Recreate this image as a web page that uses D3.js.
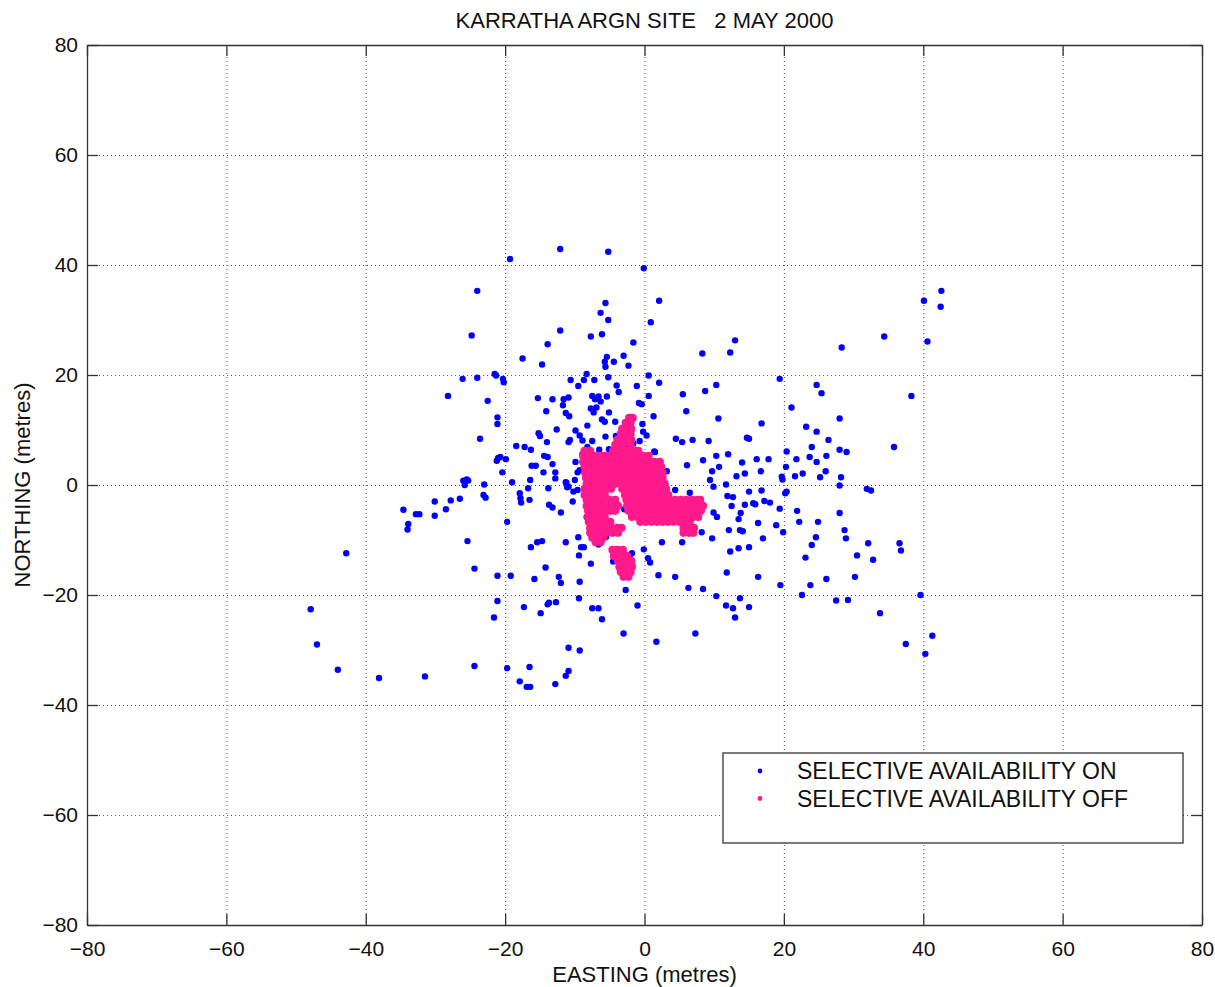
<!DOCTYPE html>
<html>
<head>
<meta charset="utf-8">
<script src="https://cdn.jsdelivr.net/npm/d3@7"></script>
<style>
  html, body { margin: 0; padding: 0; background: #fff; }
  svg { display: block; font-family: "Liberation Sans", Arial, Helvetica, sans-serif; }
</style>
</head>
<body>
<svg id="chart" width="1215" height="987"></svg>
<script>
// ---------------- DATA ----------------
const title = "KARRATHA ARGN SITE   2 MAY 2000";
const xLabel = "EASTING (metres)";
const yLabel = "NORTHING (metres)";
const seriesNames = ["SELECTIVE AVAILABILITY ON", "SELECTIVE AVAILABILITY OFF"];
const xTicks = [-80, -60, -40, -20, 0, 20, 40, 60, 80];
const yTicks = [-80, -60, -40, -20, 0, 20, 40, 60, 80];

// SA ON (blue) : [easting, northing]
const saOn = [
[-12.1,42.9],[-5.2,42.4],[-19.3,41.1],[-0.1,39.4],[2.1,33.5],[-24.0,35.3],[-5.6,33.1],[-6.3,31.3],[-5.2,30.0],[0.9,29.6],
[-24.8,27.2],[-12.1,28.1],[-7.7,27.0],[-6.1,27.4],[-1.6,25.9],[-13.9,25.6],[-17.5,23.0],[-14.7,21.9],[-5.4,23.3],[-5.7,22.4],
[-5.6,21.5],[-4.4,22.4],[-3.0,23.5],[-2.3,21.7],[-21.5,20.2],[-21.3,19.9],[-26.1,19.3],[-24.0,19.5],[-20.3,19.3],[-20.2,18.7],
[-8.3,20.2],[-5.2,19.6],[0.6,19.9],[2.1,18.6],[-10.6,19.1],[-8.7,19.1],[-7.2,19.1],[-9.5,18.0],[-4.0,18.1],[-3.7,16.9],
[-1.1,18.0],[-28.2,16.2],[-22.5,15.3],[-15.3,15.8],[-13.2,15.6],[-11.6,15.6],[-10.9,15.9],[-11.7,14.5],[-7.5,16.2],[-7.1,15.6],
[-6.6,16.1],[-6.3,15.2],[-5.4,16.1],[-7.7,13.9],[-6.9,14.1],[-7.3,13.2],[-5.1,13.2],[0.6,16.2],[-0.8,14.9],[-0.4,14.7],
[1.3,12.5],[-14.1,13.4],[-11.3,13.1],[-10.8,12.5],[-21.1,12.3],[-21.1,11.1],[-6.1,11.9],[-5.7,11.5],[-4.2,11.5],[-8.2,10.8],
[-0.3,11.1],[-0.2,9.7],[0.3,9.0],[-23.6,8.4],[-12.6,10.1],[-9.9,9.9],[-15.2,9.4],[-15.0,8.9],[-9.3,9.0],[-8.9,8.1],
[-10.7,8.2],[-10.9,7.8],[-7.5,8.0],[-5.6,8.8],[-14.0,7.8],[-4.1,8.9],[-0.7,8.0],[-1.6,7.6],[1.4,6.1],[-18.4,7.1],
[-17.2,6.9],[-16.3,6.4],[-8.2,6.9],[-6.5,6.4],[-5.1,6.5],[-1.3,6.4],[-21.0,4.9],[-20.7,5.1],[-21.2,4.4],[-19.9,4.7],
[-14.4,5.3],[-13.9,5.1],[-8.9,5.6],[-7.3,4.9],[-16.2,3.5],[-15.6,3.5],[-13.2,3.8],[-9.9,4.2],[-20.4,2.3],[-14.5,2.3],
[-12.8,2.3],[-12.8,1.2],[-9.6,2.3],[-9.3,2.7],[-10.0,0.9],[-11.2,0.4],[-26.0,0.8],[-25.5,1.0],[-25.3,0.8],[-25.8,0.0],
[-23.0,0.1],[-19.0,0.5],[-16.4,0.9],[-16.7,-0.6],[-13.8,-0.6],[-10.9,-0.3],
[-11.3,0.5],[-11.1,-0.4],[-10.2,-1.2],[-9.6,-0.9],[-17.9,-1.5],[-17.8,-2.4],[-17.7,-3.2],[-16.5,-2.7],[-13.7,-3.6],[-13.2,-4.1],
[-12.0,-5.0],[-10.3,-3.0],[-23.1,-1.8],[-22.8,-2.3],[-26.5,-2.5],[-27.8,-2.8],[-28.5,-4.4],[-30.1,-3.0],[-30.1,-5.6],[-34.6,-4.5],
[-32.8,-5.3],[-32.3,-5.3],[-33.9,-7.1],[-34.0,-8.1],[-42.8,-12.4],[-25.4,-10.2],[-24.4,-15.2],[-21.1,-16.5],[-19.2,-16.5],[-19.7,-6.7],
[-16.3,-11.3],[-15.4,-10.4],[-14.7,-10.2],[-14.2,-15.0],[-15.8,-17.1],[-12.3,-16.7],[-12.0,-17.8],[-11.3,-10.4],[-9.5,-9.5],[-9.1,-11.3],
[-8.7,-11.3],[-9.4,-12.8],[-7.7,-14.3],[-6.6,-10.8],[-9.3,-17.6],[-2.7,-19.1],[-0.1,-11.7],[0.5,-13.3],[0.8,-14.1],[2.0,-16.4],
[-2.1,-12.7],[-1.8,-12.4],[-4.5,-13.9],[-5.7,-5.5],[-5.3,-6.9],[-5.2,-7.7],[-5.5,-9.4],[-2.9,-4.4],[-8.3,-5.8],[-21.1,-21.1],
[-21.6,-24.1],[-17.3,-22.2],[-14.9,-23.3],[-13.9,-21.7],[-13.7,-21.4],[-12.7,-21.3],[-9.4,-20.6],[-7.5,-22.4],[-6.6,-22.4],[-6.1,-24.4],
[-3.0,-27.0],[-1.0,-21.9],[1.7,-28.5],[-47.9,-22.6],[-47.0,-29.0],[-44.0,-33.6],[-38.1,-35.1],[-31.5,-34.8],[-24.4,-32.9],[-19.7,-33.3],
[-16.5,-33.1],[-17.9,-35.7],[-16.9,-36.7],[-16.4,-36.7],[-12.8,-36.2],[-11.3,-34.7],[-10.9,-33.8],[-10.9,-29.6],[-9.3,-30.1],
[8.3,23.9],[12.3,24.1],[13.0,26.3],[28.3,25.0],[34.4,27.0],[40.1,33.5],[42.6,35.3],[42.5,32.4],[40.6,26.1],[19.4,19.3],
[24.7,18.2],[25.4,16.7],[38.3,16.2],[5.5,16.5],[8.7,17.1],[10.3,18.2],[6.0,13.4],[10.6,12.1],[16.8,11.2],[21.1,14.1],
[28.0,12.1],[23.2,10.6],[24.7,9.7],[26.4,8.2],[24.0,6.9],[23.7,5.1],[24.7,4.2],[26.1,5.3],[28.0,6.4],[29.0,6.0],
[35.8,6.9],[4.5,8.4],[5.4,7.8],[6.9,8.2],[9.2,8.0],[14.7,8.6],[15.0,8.4],[8.4,4.5],[10.3,5.3],[12.0,5.6],
[6.1,3.6],[10.7,3.3],[9.7,2.5],[14.0,4.1],[16.1,4.7],[17.8,4.7],[14.4,2.1],[13.2,1.6],[16.7,2.5],[11.7,0.1],
[9.9,-0.3],[9.4,0.9],[3.2,2.5],[1.5,6.0],[1.5,4.0],[20.4,6.1],[20.3,3.3],[19.7,1.5],[19.8,1.0],[21.8,4.7],
[21.6,1.6],[22.7,2.1],[25.2,1.4],[26.0,2.5],[28.2,1.4],[28.0,-0.1],
[31.9,-0.7],[32.5,-1.0],[4.4,-0.9],[2.7,-0.9],[6.5,-1.4],[15.0,-1.2],[16.8,-1.0],[20.4,-1.2],[20.2,-1.5],[11.9,-2.0],
[12.7,-2.2],[12.5,-3.8],[14.4,-3.6],[15.9,-3.5],[15.6,-3.3],[17.2,-2.9],[18.0,-3.2],[19.4,-4.3],[21.9,-4.7],[22.2,-6.7],
[24.9,-6.7],[28.0,-5.1],[28.7,-8.2],[28.9,-9.7],[32.1,-10.6],[36.6,-10.6],[36.8,-11.9],[32.8,-13.6],[30.5,-12.8],[30.2,-16.7],
[26.1,-17.1],[24.6,-9.5],[24.0,-10.9],[23.1,-13.2],[23.8,-18.2],[22.6,-20.0],[27.5,-21.0],[29.2,-20.9],[33.8,-23.3],[39.6,-20.0],
[41.3,-27.4],[37.5,-28.9],[40.3,-30.7],[9.9,-5.0],[10.4,-5.8],[13.5,-6.2],[13.8,-5.1],[16.3,-6.9],[18.9,-7.3],[19.9,-8.6],
[12.1,-8.2],[13.7,-8.2],[14.1,-8.4],[8.2,-8.6],[9.7,-9.7],[5.4,-10.4],[2.5,-10.4],[6.1,-6.9],[17.0,-9.7],[12.3,-12.1],
[13.5,-11.5],[15.0,-11.3],[4.4,-16.7],[6.3,-18.7],[8.4,-18.9],[11.8,-15.9],[16.3,-16.7],[19.5,-18.2],[10.3,-20.2],[13.7,-20.6],
[11.7,-21.9],[12.7,-22.4],[15.0,-22.2],[13.0,-24.1],[7.3,-27.0]
];

// SA OFF (pink): each row holds a northing and the eastings read along it
const saOffRows = [
{n: 12.2, e: [-2.2,-1.7]},
{n: 11.3, e: [-2.7,-2.0]},
{n: 10.2, e: [-3.2,-2.6,-1.9]},
{n: 9.3,  e: [-3.4,-2.7,-2.0]},
{n: 8.2,  e: [-3.9,-3.2,-2.5,-1.9]},
{n: 7.3,  e: [-4.2,-3.5,-2.8,-2.0]},
{n: 6.2,  e: [-8.6,-7.8,-4.5,-3.8,-3.0,-2.3,-1.5,-0.9]},
{n: 5.3,  e: [-8.8,-8.0,-7.2,-6.4,-5.7,-5.0,-4.2,-3.4,-2.6,-1.8,-1.0,-0.2,0.6]},
{n: 4.2,  e: [-8.8,-8.0,-7.2,-6.4,-5.7,-5.0,-4.2,-3.4,-2.6,-1.8,-1.0,-0.2,0.6,1.4,2.2]},
{n: 3.3,  e: [-8.6,-7.8,-7.0,-6.2,-5.4,-4.6,-3.8,-3.0,-2.2,-1.4,-0.6,0.2,1.0,1.8,2.4]},
{n: 2.2,  e: [-8.5,-7.7,-6.9,-6.1,-5.3,-4.5,-3.7,-2.9,-2.1,-1.3,-0.5,0.3,1.1,1.9,2.6]},
{n: 1.3,  e: [-8.4,-7.6,-6.8,-6.0,-5.2,-4.4,-3.6,-2.8,-2.0,-1.2,-0.4,0.4,1.2,2.0,2.6]},
{n: 0.2,  e: [-8.3,-7.5,-6.7,-5.9,-5.1,-4.3,-3.5,-2.7,-1.9,-1.1,-0.3,0.5,1.3,2.1,2.9]},
{n: -0.7, e: [-8.6,-7.8,-7.0,-6.2,-5.4,-4.8,-3.2,-2.4,-1.6,-0.8,0.0,0.8,1.6,2.4,3.1]},
{n: -1.8, e: [-8.6,-7.8,-7.0,-6.2,-5.7,-2.8,-2.0,-1.2,-0.4,0.4,1.2,2.0,2.8,3.4]},
{n: -2.7, e: [-8.3,-7.5,-6.7,-6.0,-5.0,-4.2,-2.6,-1.9,-1.2,-0.4,0.4,1.2,2.0,2.8,3.6,4.4,5.2,6.0,6.8,7.6,8.0]},
{n: -3.8, e: [-8.3,-7.5,-6.7,-5.9,-5.1,-4.3,-3.8,-2.5,-1.7,-0.9,-0.1,0.7,1.5,2.3,3.1,3.9,4.7,5.5,6.3,7.1,7.9,8.4]},
{n: -4.7, e: [-8.1,-7.3,-6.5,-5.7,-4.9,-4.2,-2.3,-1.5,-0.7,0.1,0.9,1.7,2.5,3.3,4.1,4.9,5.7,6.5,7.3,8.1]},
{n: -5.8, e: [-8.1,-7.3,-6.5,-5.7,-1.8,-1.0,-0.2,0.6,1.4,2.2,3.0,3.8,4.6,5.4,6.2,7.0,7.7]},
{n: -6.7, e: [-8.0,-7.2,-6.4,-5.7,-4.9,-0.6,0.2,1.0,1.8,2.6,3.4,4.2,5.0,5.8,6.5]},
{n: -7.8, e: [-7.8,-7.0,-6.2,-5.5,-4.7,-3.9,-3.3,5.6,6.4,7.1]},
{n: -8.7, e: [-7.8,-7.0,-6.2,-5.5,-4.6,-3.8,5.6,6.4,7.0]},
{n: -9.6, e: [-7.5,-6.7,-5.9]},
{n: -10.4,e: [-7.0,-6.3]},
{n: -11.8,e: [-4.6,-3.9,-3.1]},
{n: -12.9,e: [-4.4,-3.7,-3.0,-2.5]},
{n: -13.8,e: [-3.8,-3.1,-2.4,-1.9]},
{n: -14.9,e: [-3.6,-2.9,-2.2,-1.8]},
{n: -15.8,e: [-3.4,-2.7,-2.0]},
{n: -16.7,e: [-3.0,-2.3]}
];

// ---------------- CHART ----------------
const W = 1215, H = 987;
const m = {left: 87, top: 45, right: 13, bottom: 62};
const pw = W - m.left - m.right, ph = H - m.top - m.bottom;
const blue = "#0000ff", pink = "#ff1a8c", axisColor = "#333", gridColor = "#555";

const svg = d3.select("#chart");
const x = d3.scaleLinear().domain([-80, 80]).range([0, pw]);
const y = d3.scaleLinear().domain([-80, 80]).range([ph, 0]);

const g = svg.append("g").attr("transform", `translate(${m.left},${m.top})`);

// grid
const grid = g.append("g").attr("class", "grid");
grid.selectAll("line.vx").data(xTicks.slice(1, -1)).join("line")
  .attr("x1", d => x(d) + 0.5).attr("x2", d => x(d) + 0.5)
  .attr("y1", 0).attr("y2", ph)
  .attr("stroke", gridColor).attr("stroke-width", 1).attr("stroke-dasharray", "1,3");
grid.selectAll("line.hy").data(yTicks.slice(1, -1)).join("line")
  .attr("y1", d => y(d) + 0.5).attr("y2", d => y(d) + 0.5)
  .attr("x1", 0).attr("x2", pw)
  .attr("stroke", gridColor).attr("stroke-width", 1).attr("stroke-dasharray", "1,3");

// points: SA ON plotted first, SA OFF on top
g.append("g").selectAll("circle").data(saOn).join("circle")
  .attr("cx", d => x(d[0])).attr("cy", d => y(d[1])).attr("r", 3.2)
  .attr("fill", blue);
const saOff = saOffRows.flatMap(r => r.e.map(e => [e, r.n]));
g.append("g").selectAll("circle").data(saOff).join("circle")
  .attr("cx", d => x(d[0])).attr("cy", d => y(d[1])).attr("r", 4.1)
  .attr("fill", pink);

// axes
const tickLen = 11;
const fmt = d3.format("d");
const axB = g.append("g").attr("transform", `translate(0,${ph})`)
  .call(d3.axisBottom(x).tickValues(xTicks).tickFormat(fmt).tickSizeInner(-tickLen).tickSizeOuter(0).tickPadding(16));
const axT = g.append("g")
  .call(d3.axisTop(x).tickValues(xTicks).tickFormat("").tickSizeInner(-tickLen).tickSizeOuter(0));
const axL = g.append("g")
  .call(d3.axisLeft(y).tickValues(yTicks).tickFormat(fmt).tickSizeInner(-tickLen).tickSizeOuter(0).tickPadding(9));
const axR = g.append("g").attr("transform", `translate(${pw},0)`)
  .call(d3.axisRight(y).tickValues(yTicks).tickFormat("").tickSizeInner(-tickLen).tickSizeOuter(0));
[axB, axT, axL, axR].forEach(a => {
  a.select(".domain").attr("stroke", axisColor).attr("stroke-width", 1.3);
  a.selectAll(".tick line").attr("stroke", axisColor).attr("stroke-width", 1.3);
  a.selectAll(".tick text").attr("fill", "#111").style("font-size", "21px")
    .style("font-family", "'Liberation Sans', Arial, sans-serif");
});

// legend
const lg = g.append("g").attr("transform", `translate(${723 - m.left},${753 - m.top})`);
lg.append("rect").attr("width", 460).attr("height", 90)
  .attr("fill", "#fff").attr("stroke", axisColor).attr("stroke-width", 1.3);
const colors = [blue, pink];
seriesNames.forEach((s, i) => {
  lg.append("circle").attr("cx", 37).attr("cy", 18 + i * 27.5).attr("r", 2.4).attr("fill", colors[i]);
  lg.append("text").attr("x", 74).attr("y", 26 + i * 28).text(s)
    .attr("fill", "#111").style("font-size", "23px");
});

// titles
svg.append("text").attr("x", m.left + pw / 2).attr("y", 28).attr("text-anchor", "middle")
  .style("white-space", "pre").attr("fill", "#111").style("font-size", "22px").text(title);
svg.append("text").attr("x", m.left + pw / 2).attr("y", 982).attr("text-anchor", "middle")
  .attr("fill", "#111").style("font-size", "22px").text(xLabel);
svg.append("text").attr("transform", `translate(30,${m.top + ph / 2}) rotate(-90)`)
  .attr("text-anchor", "middle").attr("fill", "#111").style("font-size", "22px").text(yLabel);
</script>
</body>
</html>
